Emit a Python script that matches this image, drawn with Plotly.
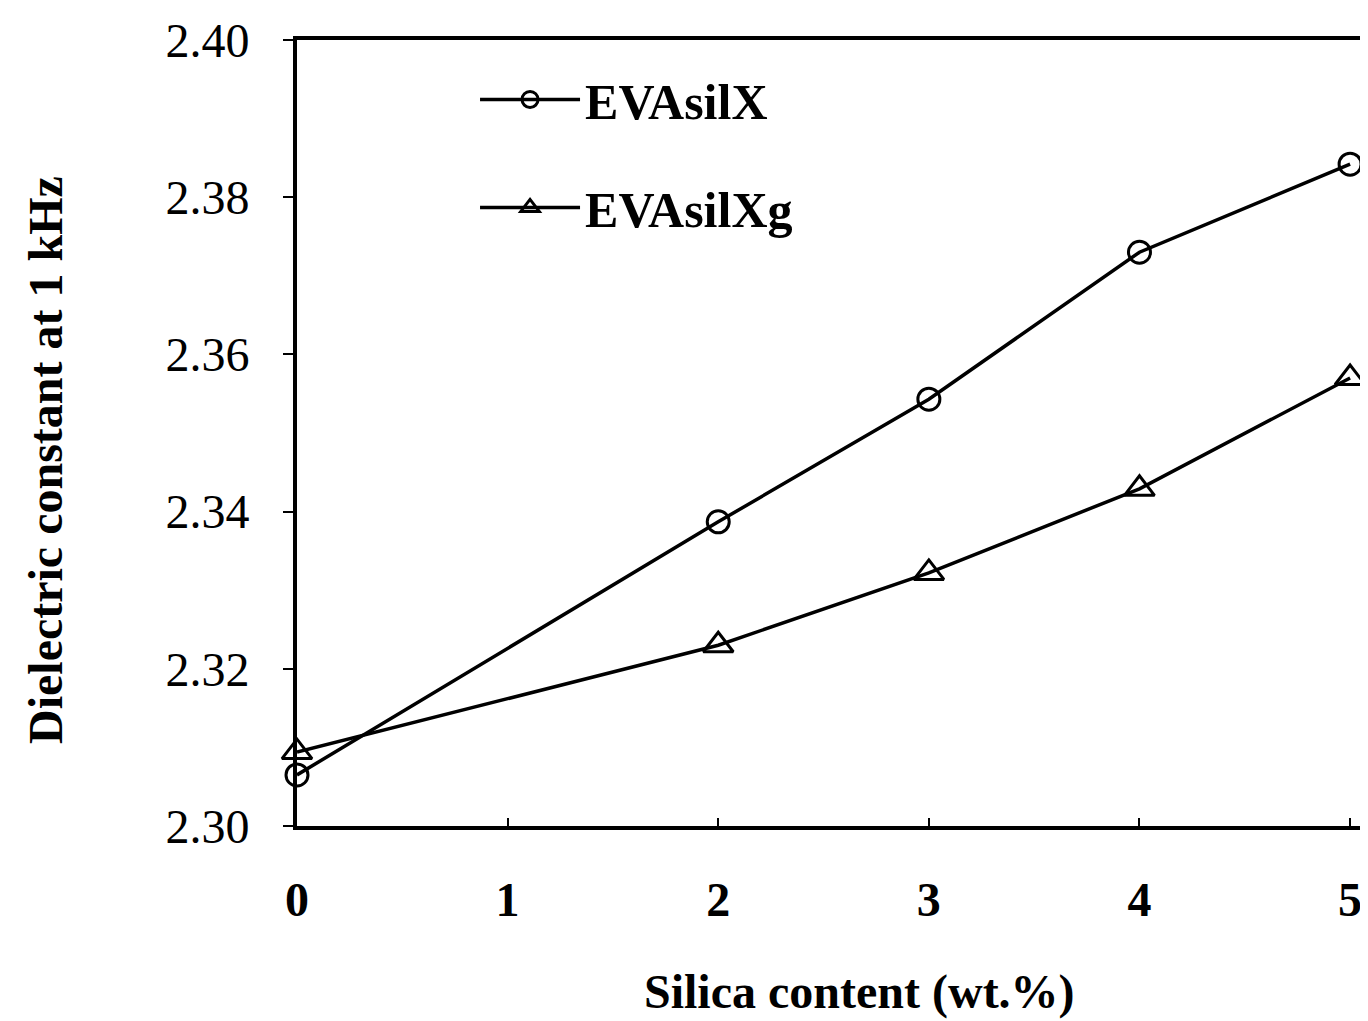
import plotly.graph_objects as go

silica = [0, 2, 3, 4, 5]
evasilx = [2.3065, 2.3387, 2.3543, 2.3730, 2.3842]
evasilxg = [2.3094, 2.3230, 2.3322, 2.3429, 2.3570]
x_ticks = [0, 1, 2, 3, 4, 5]
y_ticks = [2.30, 2.32, 2.34, 2.36, 2.38, 2.40]
y_tick_labels = ["2.30", "2.32", "2.34", "2.36", "2.38", "2.40"]

FONT = "Liberation Serif"

fig = go.Figure()
fig.add_trace(go.Scatter(
    x=silica, y=evasilx, mode="lines+markers", name="EVAsilX",
    legendgroup="a",
    line=dict(color="black", width=3.5),
    marker=dict(symbol="circle-open", size=22, color="black", line=dict(width=3)),
    cliponaxis=False,
))
fig.add_trace(go.Scatter(
    x=silica, y=evasilxg, mode="lines+markers", name="EVAsilXg",
    legendgroup="b",
    line=dict(color="black", width=3.5),
    marker=dict(symbol="triangle-up-open", size=26, color="black", line=dict(width=3)),
    cliponaxis=False,
))

fig.update_layout(
    width=1368, height=1021,
    margin=dict(l=289, r=0, t=32, b=203),
    paper_bgcolor="white", plot_bgcolor="white",
    showlegend=True,
    legend=dict(
        x=0.165, y=0.974, xanchor="left", yanchor="top",
        font=dict(family=FONT, size=50, color="black", weight="bold"),
        bgcolor="rgba(0,0,0,0)", tracegroupgap=40, traceorder="grouped",
        itemwidth=100,
    ),
    font=dict(family=FONT, color="black"),
)
fig.update_xaxes(
    range=[0, 5.123], tickvals=x_ticks, ticktext=[str(v) for v in x_ticks],
    showline=True, linecolor="black", linewidth=4, mirror=True,
    ticks="inside", ticklen=8, tickwidth=2, tickcolor="black",
    showgrid=False, zeroline=False,
    tickfont=dict(family=FONT, size=48, color="black", weight="bold"),
    ticklabelstandoff=28,
)
fig.update_yaxes(
    range=[2.30, 2.40], tickvals=y_ticks, ticktext=y_tick_labels,
    showline=True, linecolor="black", linewidth=4, mirror=False,
    ticks="outside", ticklen=10, tickwidth=2, tickcolor="black",
    showgrid=False, zeroline=False,
    tickfont=dict(family=FONT, size=48, color="black"),
    ticklabelstandoff=24,
)
fig.add_annotation(
    text="Dielectric constant at 1 kHz", xref="paper", yref="paper",
    x=(45 - 297) / 1079, y=(826 - 460) / 786, xanchor="center", yanchor="middle",
    textangle=-90, showarrow=False,
    font=dict(family=FONT, size=48, color="black", weight="bold"),
)
fig.add_annotation(
    text="Silica content (wt.%)", xref="paper", yref="paper",
    x=(859 - 297) / 1079, y=-(992 - 826) / 786, xanchor="center", yanchor="middle",
    showarrow=False,
    font=dict(family=FONT, size=48, color="black", weight="bold"),
)
fig.write_html("out.html")
